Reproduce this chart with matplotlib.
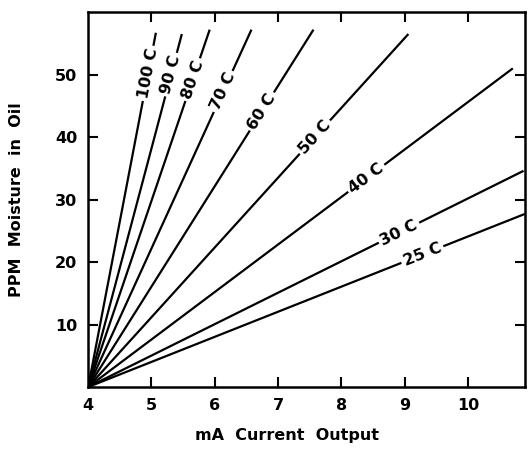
import numpy as np
import matplotlib
matplotlib.use("Agg")
from matplotlib import pyplot as plt

plt.rcParams['font.family'] = ['DejaVu Sans']
plt.rcParams['font.weight'] = 'bold'

# temperature curves: all start at 4 mA / 0 ppm
temps = ["100 C", "90 C", "80 C", "70 C", "60 C", "50 C", "40 C", "30 C", "25 C"]
end_ma = [5.07, 5.48, 5.92, 6.58, 7.56, 9.06, 10.71, 10.88, 10.9]
end_ppm = [56.7, 56.5, 57.2, 57.2, 57.2, 56.5, 51.0, 34.6, 27.7]
# ppm level where each label sits on its line
label_ppm = [50.2, 50.0, 49.2, 47.3, 44.1, 40.0, 33.4, 24.7, 21.2]

x_ticks = [4, 5, 6, 7, 8, 9, 10]
y_ticks = [10, 20, 30, 40, 50]

fig = plt.figure(figsize=(5.28, 4.5), dpi=100)
ax = fig.add_axes([0.167, 0.14, 0.827, 0.833])
ax.set_xlim(4, 10.9)
ax.set_ylim(0, 60)

for t, xe, ye, lp in zip(temps, end_ma, end_ppm, label_ppm):
    ax.plot([4, xe], [0, ye], color="black", lw=1.6, solid_capstyle="butt", zorder=2)
    slope = ye / (xe - 4)
    lx = 4 + lp / slope
    # rotation in screen space
    p0 = ax.transData.transform((4, 0))
    p1 = ax.transData.transform((xe, ye))
    ang = np.degrees(np.arctan2(p1[1] - p0[1], p1[0] - p0[0]))
    ax.text(lx, lp, t, rotation=ang, rotation_mode="anchor", ha="center", va="center",
            fontsize=11.5, fontweight="bold", zorder=3,
            bbox=dict(facecolor="white", edgecolor="none", pad=2))

ax.set_xticks(x_ticks)
ax.set_yticks(y_ticks)
ax.tick_params(direction="in", length=7, width=1.5, top=True, right=True,
               labelsize=11.5, pad=8)
ax.xaxis.get_major_ticks()[0].tick1line.set_visible(False)
ax.xaxis.get_major_ticks()[0].tick2line.set_visible(False)
for s in ax.spines.values():
    s.set_linewidth(1.8)

ax.set_xlabel("mA  Current  Output", fontsize=11.5, fontweight="bold")
ax.set_ylabel("PPM  Moisture  in  Oil", fontsize=11.5, fontweight="bold")
ax.xaxis.set_label_coords(0.455, -0.11)
ax.yaxis.set_label_coords(-0.146, 0.5)

fig.savefig("out.png", dpi=100)
